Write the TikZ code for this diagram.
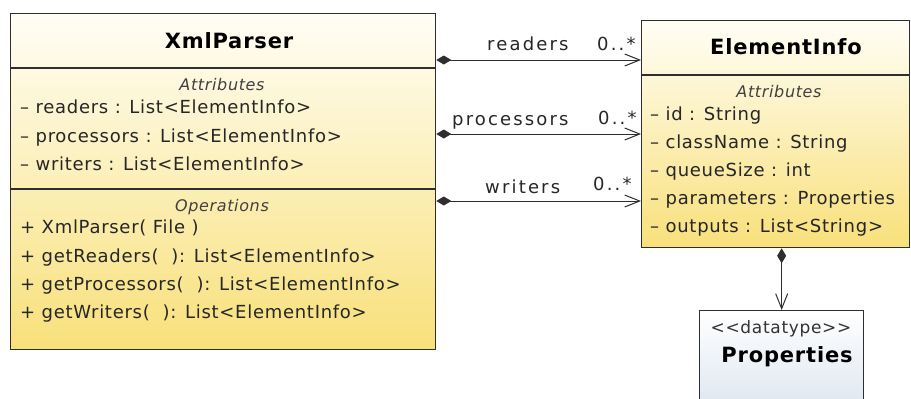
\documentclass[tikz,border=0pt]{standalone}
\usepackage{fontspec}
\setmainfont{DejaVu Sans}
\newfontfamily\umlfont[LetterSpace=4]{DejaVu Sans}
\newfontfamily\rolefont[LetterSpace=12]{DejaVu Sans}
\usetikzlibrary{arrows.meta,positioning}
\definecolor{umlline}{HTML}{2E2E2E}
\definecolor{umltop}{HTML}{FFFEF6}
\definecolor{umlbot}{HTML}{F8E07A}
\definecolor{dtbot}{HTML}{D9E3EF}
\tikzset{
  classbox/.style={draw=umlline,line width=1.3pt,inner sep=0pt,anchor=north west,top color=umltop,bottom color=umlbot},
  member/.style={anchor=base west,inner sep=0pt,text=black!85,font={\umlfont\fontsize{18}{20}\selectfont}},
  cname/.style={anchor=base,inner sep=0pt,font={\umlfont\bfseries\fontsize{21}{24}\selectfont}},
  section/.style={anchor=base,inner sep=0pt,text=black!75,font={\umlfont\itshape\fontsize{16}{18}\selectfont}},
  role/.style={anchor=base west,inner sep=0pt,text=black!85,font={\rolefont\fontsize{18}{20}\selectfont}},
  assoc/.style={draw=umlline,line width=1pt,{Diamond[length=15pt,width=9pt]}-{Straight Barb[length=15pt,width=12pt]}}
}
\begin{document}
\begin{tikzpicture}[x=1pt,y=-1pt]
  \useasboundingbox (0,0) rectangle (911,399);
  % classes
  \node[classbox,minimum width=425pt,minimum height=336pt] (xml) at (10,13) {};
  \node[classbox,minimum width=268pt,minimum height=227pt] (info) at (641,20) {};
  \node[classbox,minimum width=164pt,minimum height=110pt,top color=white,bottom color=dtbot] (props) at (699,310) {};
  \draw[umlline,line width=1.3pt] (xml.west |- 0,68) -- (xml.east |- 0,68);
  \draw[umlline,line width=1.3pt] (xml.west |- 0,189) -- (xml.east |- 0,189);
  \draw[umlline,line width=1.3pt] (info.west |- 0,75) -- (info.east |- 0,75);

  \node[cname] (xmlname) at (229,48) {XmlParser};
  \node[section] (xmlattr) at (222,90) {Attributes};
  \node[member] (xa1) at (20,113) {– readers : List<ElementInfo>};
  \node[member] (xa2) at (20,142) {– processors : List<ElementInfo>};
  \node[member] (xa3) at (20,170) {– writers : List<ElementInfo>};
  \node[section] (xmlops) at (222,211) {Operations};
  \node[member] (xo1) at (20,233) {+ XmlParser( File )};
  \node[member] (xo2) at (20,262) {+ getReaders(\ \ ): List<ElementInfo>};
  \node[member] (xo3) at (20,290) {+ getProcessors(\ \ ): List<ElementInfo>};
  \node[member] (xo4) at (20,318) {+ getWriters(\ \ ): List<ElementInfo>};

  \node[cname] (infoname) at (786,54) {ElementInfo};
  \node[section] (infoattr) at (779,97) {Attributes};
  \node[member] (ia1) at (650,120) {– id : String};
  \node[member] (ia2) at (650,148) {– className : String};
  \node[member] (ia3) at (650,176) {– queueSize : int};
  \node[member] (ia4) at (650,204) {– parameters : Properties};
  \node[member] (ia5) at (650,232) {– outputs : List<String>};

  \node[anchor=base,inner sep=0pt,text=black!80,font={\umlfont\fontsize{17}{19}\selectfont}] (stereo) at (781,333) {<<datatype>>};
  \node[cname] (propsname) at (787,362) {Properties};

  % associations
  \draw[assoc] (xml.east |- 0,60) -- (info.west |- 0,60);
  \draw[assoc] (xml.east |- 0,134) -- (info.west |- 0,134);
  \draw[assoc] (xml.east |- 0,201) -- (info.west |- 0,201);
  \draw[assoc] (info.south -| props.north) -- (props.north);
  \node[role] (r1) at (487,50) {readers};
  \node[role] (m1) at (597,50) {0..*};
  \node[role] (r2) at (452,125) {processors};
  \node[role] (m2) at (598,124) {0..*};
  \node[role] (r3) at (485,193) {writers};
  \node[role] (m3) at (593,190) {0..*};
\end{tikzpicture}
\end{document}
